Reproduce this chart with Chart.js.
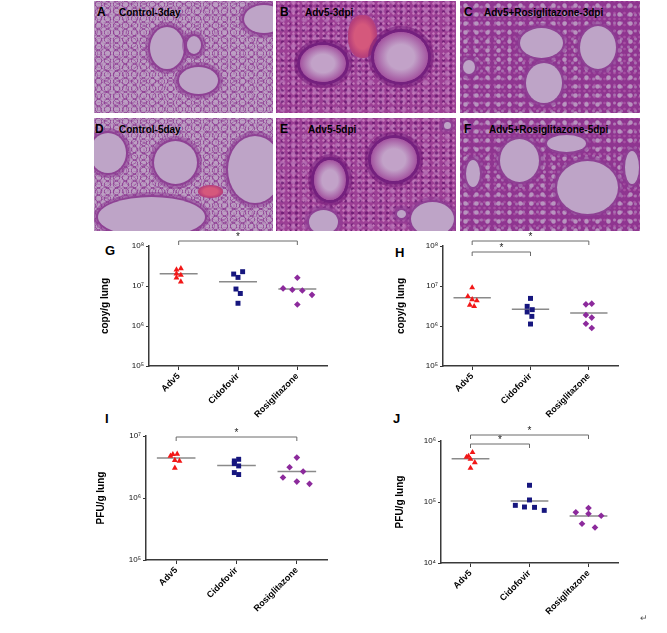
<!DOCTYPE html>
<html lang="en">
<head>
<meta charset="UTF-8">
<title>Adv5 lung histology and viral load</title>
<script src="https://cdn.jsdelivr.net/npm/chart.js@4.4.0/dist/chart.umd.min.js"></script>
<style>
  body { margin: 0; background: #fff; font-family: Arial, "Liberation Sans", sans-serif; }
  #page { position: relative; width: 667px; height: 633px; overflow: hidden; }
  .tissue { position: absolute; overflow: hidden; }
  .normal {
    background-color: #bc9fc3;
    background-image:
      radial-gradient(circle, transparent 0 46%, rgba(135,45,140,.75) 55%, transparent 66%),
      radial-gradient(circle, transparent 0 50%, rgba(140,55,145,.55) 58%, transparent 68%),
      radial-gradient(circle, transparent 0 40%, rgba(150,70,150,.3) 52%, transparent 64%);
    background-size: 9px 7px, 13px 11px, 6px 8px;
    background-position: 0 0, 5px 3px, 2px 4px;
  }
  .dense {
    background-color: #9c3f95;
    background-image:
      radial-gradient(circle, #c47ab9 0 22%, transparent 46%),
      radial-gradient(circle, rgba(95,15,105,.7) 0 20%, transparent 46%),
      radial-gradient(circle, rgba(200,150,205,.5) 0 25%, transparent 50%);
    background-size: 5px 5px, 7px 6px, 11px 9px;
    background-position: 0 0, 3px 2px, 1px 5px;
  }
  .mid {
    background-color: #8f3590;
    background-image:
      radial-gradient(circle, rgba(187,157,195,.9) 0 22%, transparent 40%),
      radial-gradient(circle, rgba(185,150,195,.6) 0 18%, transparent 38%),
      radial-gradient(circle, rgba(175,90,170,.7) 0 22%, transparent 44%);
    background-size: 11px 9px, 7px 8px, 5px 6px;
    background-position: 0 0, 4px 2px, 2px 3px;
  }
  .lum { position: absolute; border-radius: 50%; background: #bea4c7;
         box-shadow: 0 0 0 2px #8e4194, 0 0 0 5px rgba(140,55,145,.5); }
  .pap { background: radial-gradient(ellipse, #c2a2c8 0 35%, #a2509e 72%);
         box-shadow: 0 0 0 3px #74207e, 0 0 0 6px rgba(115,25,120,.55); }
  .vessel { position: absolute; border-radius: 45%;
            background: radial-gradient(ellipse, #d5587c 0 40%, #b8407a 65%, #9c3c8c); }
  .cap, .pl { position: absolute; font-weight: bold; color: #000; white-space: nowrap; }
  .cap { font-size: 10px; }
  .pl { font-size: 12px; }
  .letter { position: absolute; font-weight: bold; font-size: 13px; color: #000; }
  .box { position: absolute; }
</style>
</head>
<body>
<div id="page">
  <!-- histology panels -->
  <div class="tissue normal" style="left:94px;top:1px;width:179px;height:112px">
    <i class="lum" style="left:56px;top:26px;width:34px;height:42px"></i>
    <i class="lum" style="left:85px;top:66px;width:39px;height:27px"></i>
    <i class="lum" style="left:93px;top:35px;width:14px;height:18px"></i>
    <i class="lum" style="left:150px;top:4px;width:40px;height:28px"></i>
    <span class="pl" style="left:3px;top:4px">A</span><span class="cap" style="left:25px;top:6px">Control-3day</span>
  </div>
  <div class="tissue dense" style="left:276px;top:1px;width:180px;height:112px">
    <i class="vessel" style="left:72px;top:14px;width:29px;height:43px"></i>
    <i class="lum pap" style="left:24px;top:44px;width:46px;height:37px"></i>
    <i class="lum pap" style="left:98px;top:31px;width:54px;height:50px"></i>
    <span class="pl" style="left:4px;top:4px">B</span><span class="cap" style="left:29px;top:6px">Adv5-3dpi</span>
  </div>
  <div class="tissue mid" style="left:460px;top:1px;width:180px;height:112px">
    <i class="lum" style="left:60px;top:27px;width:43px;height:30px"></i>
    <i class="lum" style="left:66px;top:62px;width:36px;height:40px"></i>
    <i class="lum" style="left:120px;top:25px;width:36px;height:43px"></i>
    <i class="lum" style="left:3px;top:59px;width:12px;height:14px"></i>
    <span class="pl" style="left:4px;top:4px">C</span><span class="cap" style="left:24px;top:6px">Adv5+Rosiglitazone-3dpi</span>
  </div>
  <div class="tissue normal" style="left:94px;top:118px;width:179px;height:113px">
    <i class="lum" style="left:60px;top:23px;width:43px;height:43px"></i>
    <i class="lum" style="left:-4px;top:15px;width:36px;height:40px"></i>
    <i class="lum" style="left:134px;top:18px;width:54px;height:67px"></i>
    <i class="lum" style="left:4px;top:79px;width:107px;height:40px"></i>
    <i class="vessel" style="left:104px;top:67px;width:25px;height:13px"></i>
    <span class="pl" style="left:1px;top:4px">D</span><span class="cap" style="left:25px;top:6px">Control-5day</span>
  </div>
  <div class="tissue dense" style="left:276px;top:118px;width:180px;height:113px">
    <i class="lum pap" style="left:38px;top:42px;width:32px;height:40px"></i>
    <i class="lum pap" style="left:95px;top:20px;width:46px;height:43px"></i>
    <i class="lum" style="left:33px;top:92px;width:29px;height:24px"></i>
    <i class="lum" style="left:135px;top:84px;width:43px;height:34px"></i>
    <i class="lum" style="left:121px;top:92px;width:9px;height:8px"></i>
    <i class="lum" style="left:168px;top:4px;width:7px;height:7px"></i>
    <span class="pl" style="left:4px;top:4px">E</span><span class="cap" style="left:32px;top:6px">Adv5-5dpi</span>
  </div>
  <div class="tissue mid" style="left:460px;top:118px;width:180px;height:113px">
    <i class="lum" style="left:40px;top:21px;width:39px;height:43px"></i>
    <i class="lum" style="left:97px;top:43px;width:61px;height:53px"></i>
    <i class="lum" style="left:87px;top:17px;width:39px;height:17px"></i>
    <i class="lum" style="left:6px;top:42px;width:14px;height:27px"></i>
    <i class="lum" style="left:165px;top:33px;width:14px;height:33px"></i>
    <span class="pl" style="left:4px;top:4px">F</span><span class="cap" style="left:29px;top:6px">Adv5+Rosiglitazone-5dpi</span>
  </div>

  <div class="letter" style="left:105px;top:243px">G</div>
  <div class="letter" style="left:395px;top:245px">H</div>
  <div class="letter" style="left:105px;top:411px">I</div>
  <div class="letter" style="left:393px;top:411px">J</div>

  <div class="box" style="left:90px;top:222px;width:250px;height:200px"><canvas id="chartG"></canvas></div>
  <div class="box" style="left:390px;top:222px;width:240px;height:200px"><canvas id="chartH"></canvas></div>
  <div class="box" style="left:90px;top:410px;width:250px;height:215px"><canvas id="chartI"></canvas></div>
  <div class="box" style="left:390px;top:410px;width:240px;height:215px"><canvas id="chartJ"></canvas></div>

  <span style="position:absolute;left:640px;top:613px;font-size:9px;color:#555">&#8629;</span>
</div>

<script>
    const groups = ['Adv5', 'Cidofovir', 'Rosiglitazone'];

    // G: viral DNA, copy/g lung, 3 dpi
    const gAdv5 = [2.75e7, 2.55e7, 2.03e7, 1.87e7, 1.61e7, 1.28e7];
    const gCido = [2.28e7, 1.99e7, 1.64e7, 8.4e6, 6.5e6, 3.7e6];
    const gRosi = [1.61e7, 8.7e6, 8.05e6, 7.75e6, 6.0e6, 3.45e6];
    const gMedian = [2.03e7, 1.28e7, 8.4e6];

    // H: viral DNA, copy/g lung, 5 dpi
    const hAdv5 = [9.1e6, 5.5e6, 4.6e6, 4.3e6, 3.35e6, 3.1e6];
    const hCido = [4.9e6, 3.1e6, 2.56e6, 2.24e6, 1.74e6, 1.12e6];
    const hRosi = [3.62e6, 3.48e6, 1.88e6, 1.62e6, 1.14e6, 8.9e5];
    const hMedian = [5.1e6, 2.61e6, 2.11e6];

    // I: infectious virus, PFU/g lung, 3 dpi
    const iAdv5 = [5.13e6, 5.07e6, 4.77e6, 4.06e6, 3.96e6, 3.05e6];
    const iCido = [4.21e6, 3.96e6, 3.59e6, 3.29e6, 2.57e6, 2.39e6];
    const iRosi = [4.48e6, 3.13e6, 2.67e6, 2.14e6, 1.84e6, 1.69e6];
    const iMedian = [4.43e6, 3.33e6, 2.67e6];

    // J: infectious virus, PFU/g lung, 5 dpi
    const jAdv5 = [6.5e5, 5.66e5, 5.45e5, 5.05e5, 4.45e5, 3.59e5];
    const jCido = [1.88e5, 1.08e5, 8.81e4, 8.28e4, 8.17e4, 7.29e4];
    const jRosi = [7.96e4, 6.76e4, 6.43e4, 5.96e4, 4.4e4, 3.82e4];
    const jMedian = [5.12e5, 1.04e5, 5.88e4];

    // y axis decades
    const ticksCopy = [1e5, 1e6, 1e7, 1e8];
    const ticksPfuI = [1e5, 1e6, 1e7];
    const ticksPfuJ = [1e4, 1e5, 1e6];

    // significant comparisons (group index pairs)
    const sigG = [[0, 2]];
    const sigH = [[0, 2], [0, 1]];
    const sigI = [[0, 2]];
    const sigJ = [[0, 2], [0, 1]];

    // horizontal scatter of the dots inside each column (category units)
    const spreadG = [[0.037, -0.037, -0.037, 0.037, -0.037, 0.037],
                     [0.078, -0.073, 0, -0.034, 0.039, 0],
                     [0, -0.24, -0.084, 0.084, 0.247, 0]];
    const spreadH = [[0, -0.074, 0, 0.08, -0.04, 0.034],
                     [0, -0.057, 0.03, -0.057, 0.023, 0],
                     [0.05, -0.05, -0.05, 0.05, -0.05, 0.05]];
    const spreadI = [[0.017, -0.055, -0.094, -0.022, 0.055, -0.022],
                     [0.036, -0.036, -0.036, 0.036, -0.036, 0.036],
                     [0, -0.12, 0.105, -0.23, 0, 0.21]];
    const spreadJ = [[0.034, -0.034, -0.068, 0, 0.073, 0],
                     [0, 0, -0.24, -0.085, 0.085, 0.25],
                     [0, -0.215, 0, 0.215, -0.11, 0.11]];

    const marks = [
        { style: 'triangle', color: '#f21818', radius: 3.4 },
        { style: 'rect', color: '#16167e', radius: 3.5 },
        { style: 'rectRot', color: '#8c2a9c', radius: 3.3 }
    ];

    const SUP = { '4': '\u2074', '5': '\u2075', '6': '\u2076', '7': '\u2077', '8': '\u2078' };

    Chart.defaults.font.family = 'Arial, "Liberation Sans", "DejaVu Sans", sans-serif';

    // draws the significance brackets with their stars
    const bracketPlugin = {
        id: 'brackets',
        afterDatasetsDraw(chart, args, opts) {
            const { ctx, chartArea, scales } = chart;
            (opts.pairs || []).forEach((p, i) => {
                const x1 = scales.x.getPixelForValue(p[0]);
                const x2 = scales.x.getPixelForValue(p[1]);
                const y = chartArea.top + opts.rise[i];
                ctx.save();
                ctx.strokeStyle = '#6a6a6a';
                ctx.lineWidth = 1;
                ctx.beginPath();
                ctx.moveTo(x1, y + 4);
                ctx.lineTo(x1, y);
                ctx.lineTo(x2, y);
                ctx.lineTo(x2, y + 4);
                ctx.stroke();
                ctx.fillStyle = '#222';
                ctx.font = '10px Arial, "Liberation Sans", sans-serif';
                ctx.textAlign = 'center';
                ctx.textBaseline = 'middle';
                ctx.fillText('*', (x1 + x2) / 2, y - 4);
                ctx.restore();
            });
        }
    };

    function dotPlot(id, title, yTicks, sets, medians, spread, pairs, box) {
        const datasets = [];
        sets.forEach((vals, i) => {
            datasets.push({
                type: 'line',
                data: [{ x: i - 0.32, y: medians[i] }, { x: i + 0.32, y: medians[i] }],
                borderColor: '#8a8a8a',
                borderWidth: 1.5,
                pointRadius: 0,
                order: 2
            });
            datasets.push({
                data: vals.map((v, k) => ({ x: i + spread[i][k], y: v })),
                pointStyle: marks[i].style,
                pointRadius: marks[i].radius,
                backgroundColor: marks[i].color,
                borderColor: marks[i].color,
                borderWidth: 0,
                order: 1
            });
        });

        return new Chart(document.getElementById(id), {
            type: 'scatter',
            data: { datasets },
            options: {
                responsive: true,
                maintainAspectRatio: false,
                animation: false,
                layout: { padding: box.pad },
                plugins: {
                    legend: { display: false },
                    tooltip: { enabled: false },
                    brackets: { pairs, rise: box.rise }
                },
                scales: {
                    x: {
                        type: 'linear',
                        min: -0.5,
                        max: 2.5,
                        afterBuildTicks: s => { s.ticks = groups.map((g, i) => ({ value: i })); },
                        afterFit: s => { s.height = box.xh; },
                        ticks: {
                            callback: v => groups[v],
                            maxRotation: 45,
                            minRotation: 45,
                            padding: 1,
                            color: '#000',
                            font: { size: 9, weight: 'bold' }
                        },
                        grid: { drawOnChartArea: false, tickLength: 4, color: '#333' },
                        border: { color: '#3a3a3a', width: 1.5 }
                    },
                    y: {
                        type: 'logarithmic',
                        min: yTicks[0],
                        max: yTicks[yTicks.length - 1],
                        afterBuildTicks: s => { s.ticks = yTicks.map(v => ({ value: v })); },
                        afterFit: s => { s.width = box.yw; },
                        ticks: {
                            callback: v => '10' + SUP[String(Math.round(Math.log10(v)))],
                            padding: 2,
                            color: '#111',
                            font: { size: 8 }
                        },
                        grid: { drawOnChartArea: false, tickLength: 3, color: '#333' },
                        border: { color: '#3a3a3a', width: 1.5 },
                        title: {
                            display: true,
                            text: title,
                            color: '#000',
                            font: { size: 10, weight: 'bold' },
                            padding: { top: box.tp, bottom: 0 }
                        }
                    }
                }
            },
            plugins: [bracketPlugin]
        });
    }

    dotPlot('chartG', 'copy/g lung', ticksCopy, [gAdv5, gCido, gRosi], gMedian, spreadG, sigG,
        { pad: { top: 24, right: 13, left: 0, bottom: 0 }, yw: 59, xh: 56, tp: 9, rise: [-5] });
    dotPlot('chartH', 'copy/g lung', ticksCopy, [hAdv5, hCido, hRosi], hMedian, spreadH, sigH,
        { pad: { top: 24, right: 12, left: 0, bottom: 0 }, yw: 53, xh: 56, tp: 5, rise: [-5, 6] });
    dotPlot('chartI', 'PFU/g lung', ticksPfuI, [iAdv5, iCido, iRosi], iMedian, spreadI, sigI,
        { pad: { top: 26, right: 13, left: 0, bottom: 0 }, yw: 56, xh: 65, tp: 5, rise: [1] });
    dotPlot('chartJ', 'PFU/g lung', ticksPfuJ, [jAdv5, jCido, jRosi], jMedian, spreadJ, sigJ,
        { pad: { top: 31, right: 12, left: 0, bottom: 0 }, yw: 51, xh: 62, tp: 4, rise: [-6, 3] });
</script>
</body>
</html>
